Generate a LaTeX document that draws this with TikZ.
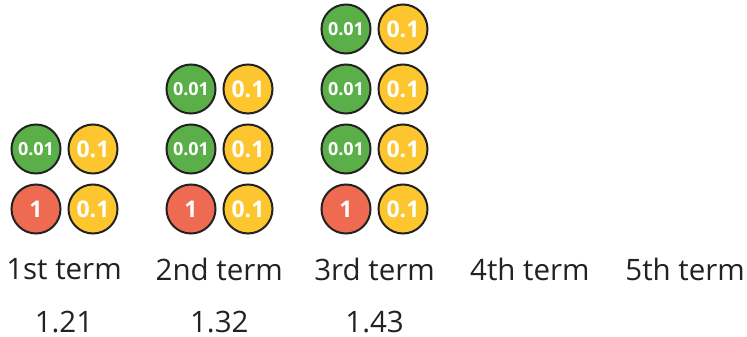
\documentclass[tikz,border=0pt]{standalone}
\usepackage{fontspec}
\setmainfont{Open Sans}
\definecolor{coingreen}{HTML}{5BAF48}
\definecolor{coinyellow}{HTML}{FDC62F}
\definecolor{coinred}{HTML}{EE6A50}
\definecolor{labelgray}{HTML}{222222}
\begin{document}
\begin{tikzpicture}[x=1pt,y=-1pt,
    coin/.style={circle, draw=labelgray, line width=2pt, minimum size=49pt,
      inner sep=0pt, text=white, font=\bfseries\fontsize{23}{23}\selectfont},
    one/.style={coin, fill=coinred},
    tenth/.style={coin, fill=coinyellow},
    hundredth/.style={coin, fill=coingreen, font=\bfseries\fontsize{18}{18}\selectfont},
    termlabel/.style={text=labelgray, inner sep=0pt, font=\fontsize{29.5}{34}\selectfont}]
  \useasboundingbox (0,0) rectangle (747,337);
  \def\dx{155}
  \def\dy{60}

  % COINS
  \foreach \c in {1,2,3}{
    \node[one] (one\c) at ({36+(\c-1)*\dx},209) {1};
    \node[tenth] (tenth\c-1) at ({93+(\c-1)*\dx},209) {0.1};
    \foreach \r in {1,...,\c}{
      \node[hundredth] (hund\c-\r) at ({36+(\c-1)*\dx},{209-\r*\dy}) {0.01};
      \node[tenth] (tenth\c-\the\numexpr\r+1\relax) at ({93+(\c-1)*\dx},{209-\r*\dy}) {0.1};
    }
  }

  % TERMS
  \foreach \k/\name in {1/1st,2/2nd,3/3rd,4/4th,5/5th}
    \node[termlabel] (term\k) at ({64+(\k-1)*155.3},269) {\name\ term};

  % VALUES
  \foreach \k/\val in {1/1.21,2/1.32,3/1.43}
    \node[termlabel] (val\k) at ({64+(\k-1)*155.3},322) {\val};
\end{tikzpicture}
\end{document}
